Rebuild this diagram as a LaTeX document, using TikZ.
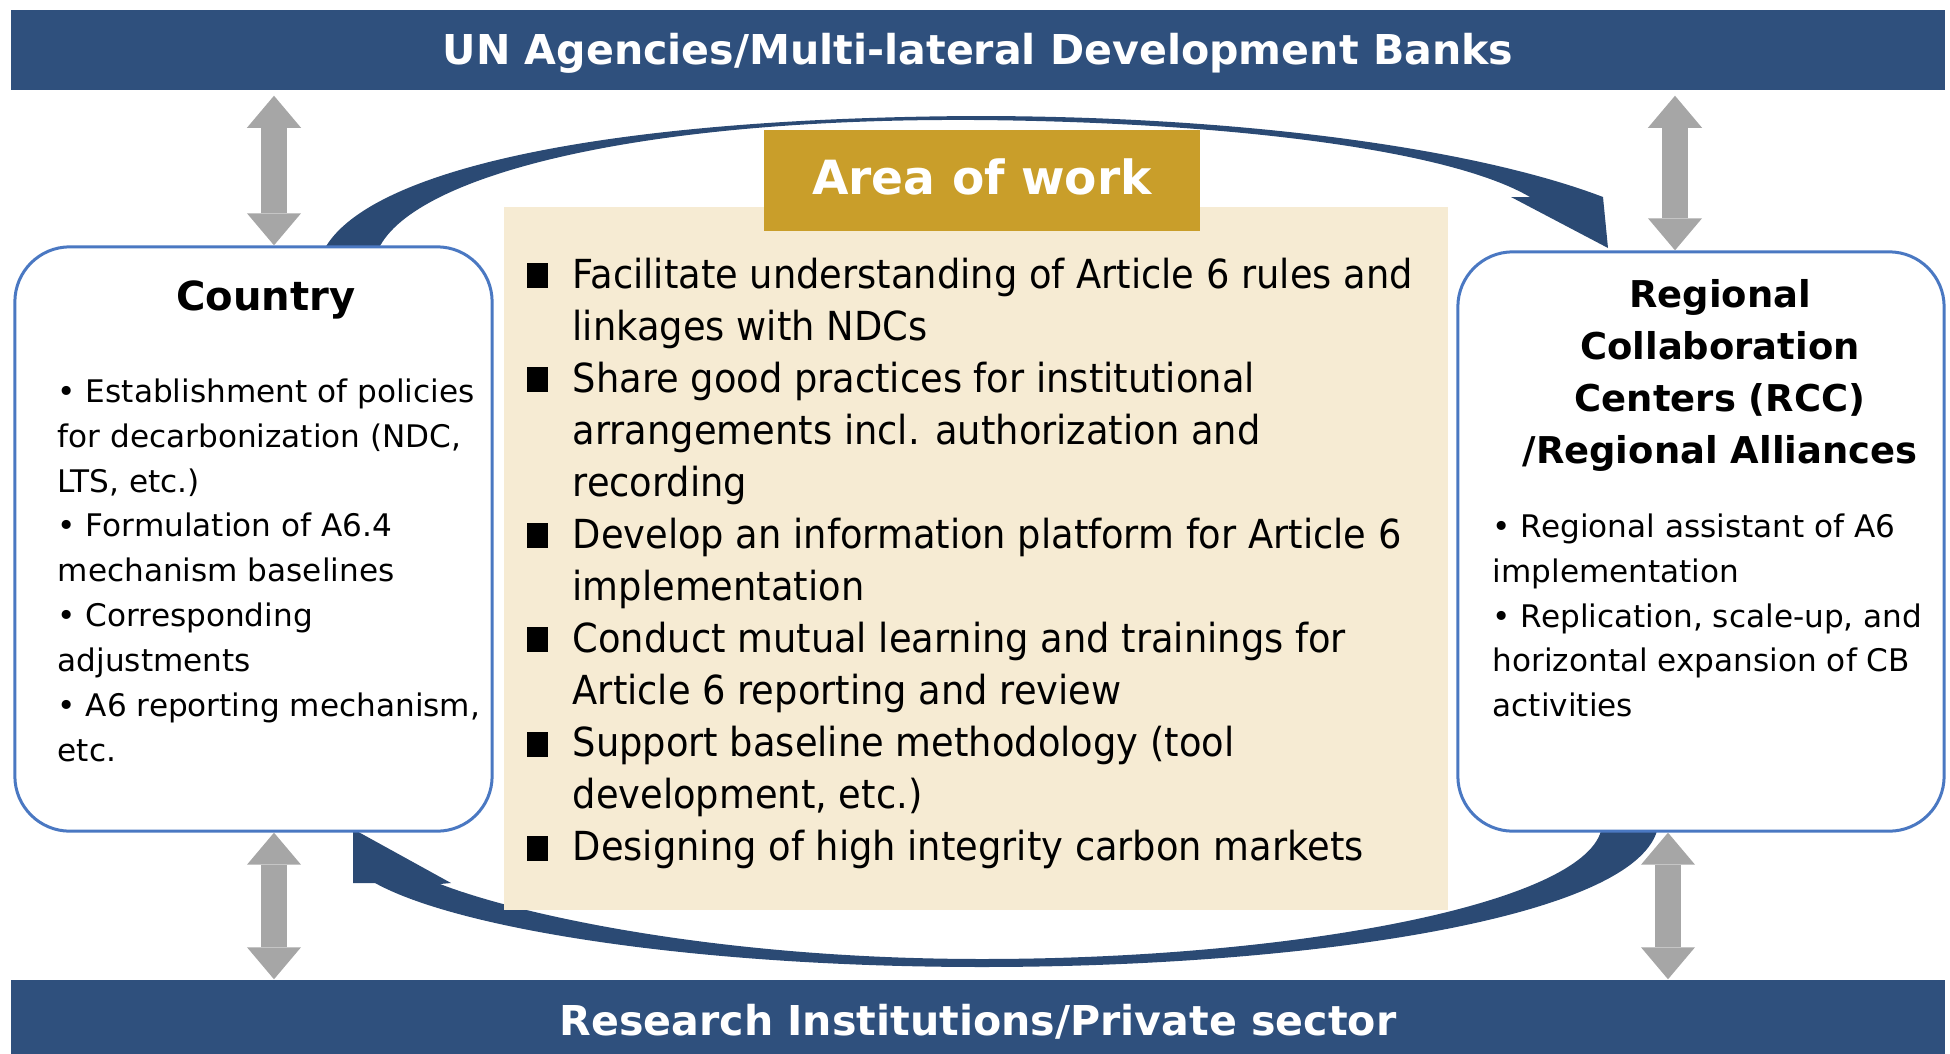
\documentclass[tikz,border=0pt]{standalone}
\usepackage{fontspec}
\setmainfont{DejaVu Sans}
\newfontfamily\narrowfont[FakeStretch=0.92]{DejaVu Sans}
\usetikzlibrary{arrows.meta}

\definecolor{barblue}{HTML}{2F507D}
\definecolor{arcblue}{HTML}{2B4A74}
\definecolor{boxblue}{HTML}{4A78C2}
\definecolor{workgold}{HTML}{C99E2A}
\definecolor{workbeige}{HTML}{F6EBD3}
\definecolor{linkgray}{HTML}{A6A6A6}

\newcommand{\sqitem}{\makebox[0.46cm][l]{\rule{0.21cm}{0.25cm}}}
\newcommand{\sqcont}{\makebox[0.46cm]{}}

\tikzset{
  bar/.style={fill=barblue, text=white, font=\fontsize{11.7}{14}\selectfont\bfseries,
    minimum width=19.32cm, inner sep=0pt},
  partybox/.style={draw=boxblue, line width=0.03cm, fill=white, rounded corners=0.55cm, inner sep=0pt},
  graydbl/.style={draw=linkgray, line width=0.26cm,
    arrows={Triangle[width=0.54cm,length=0.32cm,line width=0pt]-Triangle[width=0.54cm,length=0.32cm,line width=0pt]}},
  flow/.style={fill=arcblue},
  bullets/.style={anchor=north west, align=left, inner sep=0pt, font=\fontsize{8.85}{12.75}\selectfont},
}

\begin{document}
\begin{tikzpicture}[x=0.01cm, y=-0.01cm]
  \useasboundingbox (0,0) rectangle (1950,1054);

  % curved flows between the two parties
  \fill[flow] (325,248) .. controls (370,170) and (600,118) .. (975,116)
    .. controls (1250,116) and (1480,150) .. (1603,197)
    -- (1608,248) -- (1511,197) -- (1530,197)
    .. controls (1450,150) and (1230,122) .. (975,120)
    .. controls (640,118) and (415,175) .. (379,248) -- cycle;
  \fill[flow] (1657,831) .. controls (1630,920) and (1300,967) .. (982,967)
    .. controls (700,967) and (460,930) .. (375,883)
    -- (353,883) -- (353,829) -- (451,883) -- (440,884)
    .. controls (520,915) and (720,959) .. (982,959)
    .. controls (1290,959) and (1580,905) .. (1601,831) -- cycle;

  % bars
  \node[bar, minimum height=0.8cm, text height=0.39cm, text depth=0.1cm] (unbar) at (978,50)
    {UN Agencies/Multi-lateral Development Banks};
  \node[bar, minimum height=0.84cm] (resbar) at (978,1022) {Research Institutions/Private sector};

  % parties
  \node[partybox, minimum width=4.77cm, minimum height=5.84cm] (country) at (253.5,539) {};
  \node[partybox, minimum width=4.86cm, minimum height=5.79cm] (rcc) at (1701,541.5) {};

  % area of work
  \node[fill=workbeige, minimum width=9.44cm, minimum height=7.03cm] (work) at (976,558.5) {};
  \node[fill=workgold, text=white, font=\fontsize{13.4}{16}\selectfont\bfseries, text depth=0.08cm,
    minimum width=4.36cm, minimum height=1.01cm] (area) at (982,180.5) {Area of work};

  \node[font=\fontsize{11.4}{13}\selectfont\bfseries, anchor=base] (countrytitle) at (266,310) {Country};
  \node[bullets] (countrylist) at (57,378) {\textbullet\ Establishment of policies\\
    for decarbonization (NDC,\\ LTS, etc.)\\ \textbullet\ Formulation of A6.4\\
    mechanism baselines\\ \textbullet\ Corresponding\\ adjustments\\
    \textbullet\ A6 reporting mechanism,\\ etc.};

  \node[font=\fontsize{10.5}{14.8}\selectfont\bfseries, align=center, anchor=north, inner sep=0pt]
    (rcctitle) at (1720,279) {Regional\\ Collaboration\\ Centers (RCC)\\ /Regional Alliances};
  \node[bullets] (rcclist) at (1492,513) {\textbullet\ Regional assistant of A6\\
    implementation\\ \textbullet\ Replication, scale-up, and\\
    horizontal expansion of CB\\ activities};

  \node[bullets, font=\narrowfont\fontsize{11.38}{14.8}\selectfont] (worklist) at (526,257) {%
    \sqitem Facilitate understanding of Article 6 rules and\\
    \sqcont linkages with NDCs\\
    \sqitem Share good practices for institutional\\
    \sqcont arrangements incl. authorization and\\
    \sqcont recording\\
    \sqitem Develop an information platform for Article 6\\
    \sqcont implementation\\
    \sqitem Conduct mutual learning and trainings for\\
    \sqcont Article 6 reporting and review\\
    \sqitem Support baseline methodology (tool\\
    \sqcont development, etc.)\\
    \sqitem Designing of high integrity carbon markets};

  % links to the outer bars
  \coordinate (lx) at (274,0);
  \coordinate (rx) at (1675,0);
  \coordinate (rxb) at (1668,0);
  \draw[graydbl, shorten >=0.05cm] (country.north -| lx) -- (unbar.south -| lx);
  \draw[graydbl] (country.south -| lx) -- (resbar.north -| lx);
  \draw[graydbl, shorten >=0.05cm] (rcc.north -| rx) -- (unbar.south -| rx);
  \draw[graydbl] (rcc.south -| rxb) -- (resbar.north -| rxb);
\end{tikzpicture}
\end{document}
